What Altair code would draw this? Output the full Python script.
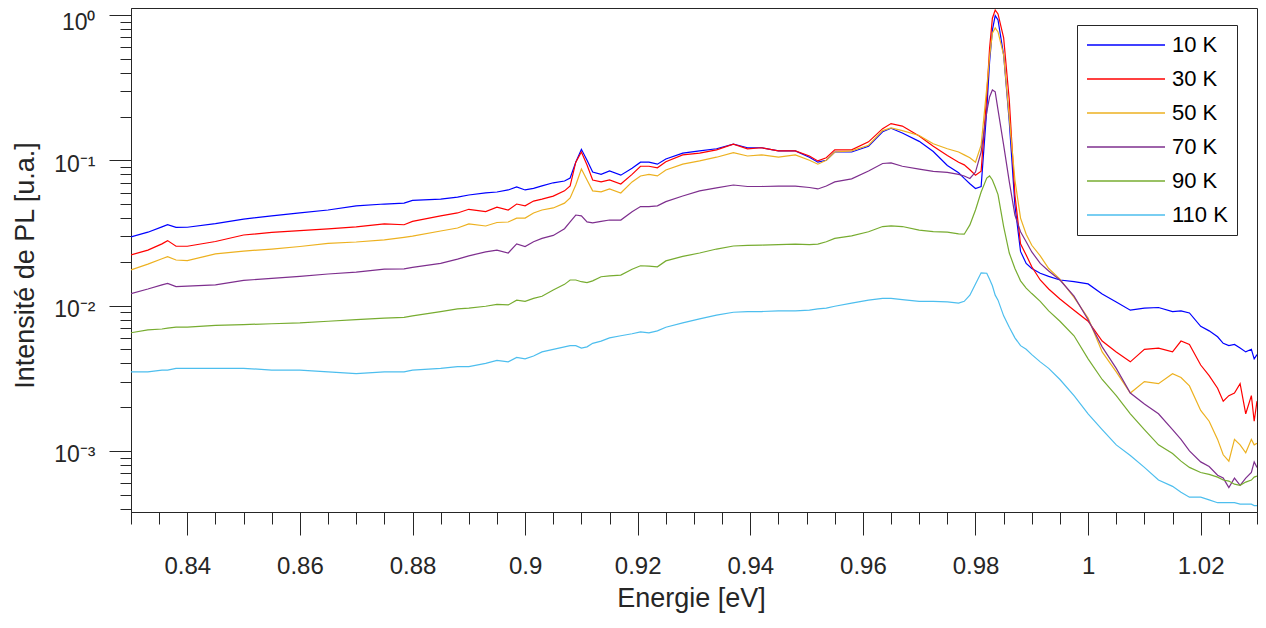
import altair as alt
import pandas as pd

# ---------------- data ----------------
energie = [
    0.830, 0.833, 0.8355, 0.8365, 0.838, 0.840, 0.845, 0.850, 0.855, 0.860,
    0.865, 0.870, 0.875, 0.8785, 0.880, 0.885, 0.888, 0.890, 0.893, 0.895,
    0.897, 0.8985, 0.900, 0.9015, 0.903, 0.905, 0.907, 0.908, 0.909, 0.910,
    0.911, 0.912, 0.9135, 0.915, 0.917, 0.919, 0.9205, 0.922, 0.9235, 0.925,
    0.928, 0.931, 0.934, 0.937, 0.9395, 0.942, 0.945, 0.948, 0.9505, 0.952,
    0.9535, 0.955, 0.958, 0.961, 0.9635, 0.965, 0.967, 0.970, 0.9725, 0.975,
    0.977, 0.978, 0.979, 0.980, 0.981, 0.982, 0.9825, 0.983, 0.9835, 0.984,
    0.985, 0.986, 0.987, 0.988, 0.989, 0.990, 0.9915, 0.993, 0.995, 0.9975,
    1.000, 1.0025, 1.005, 1.0075, 1.010, 1.0125, 1.015, 1.0165, 1.018, 1.020,
    1.0215, 1.023, 1.024, 1.025, 1.026, 1.027, 1.028, 1.029, 1.0295, 1.030,
]

pl_10K = [
    0.0297, 0.032, 0.0348, 0.036, 0.0345, 0.0346, 0.0367, 0.0394, 0.0414, 0.0434,
    0.0455, 0.0485, 0.050, 0.0507, 0.053, 0.054, 0.0557, 0.0577, 0.0596, 0.0605,
    0.0625, 0.0655, 0.0625, 0.064, 0.0666, 0.070, 0.072, 0.0755, 0.097, 0.119,
    0.100, 0.083, 0.080, 0.0844, 0.079, 0.088, 0.097, 0.097, 0.094, 0.102,
    0.112, 0.116, 0.120, 0.129, 0.122, 0.122, 0.116, 0.116, 0.105, 0.097,
    0.100, 0.114, 0.114, 0.125, 0.157, 0.166, 0.154, 0.135, 0.115, 0.092,
    0.082, 0.075, 0.069, 0.064, 0.066, 0.222, 0.475, 0.788, 0.990, 0.924,
    0.53, 0.184, 0.049, 0.0236, 0.0195, 0.018, 0.0167, 0.0159, 0.015, 0.0146,
    0.0141, 0.012, 0.0106, 0.0093, 0.0096, 0.0097, 0.0091, 0.0092, 0.0089, 0.0072,
    0.0067, 0.0061, 0.0055, 0.0053, 0.0054, 0.0051, 0.0048, 0.005, 0.0043, 0.0046,
]

pl_30K = [
    0.0223, 0.0241, 0.0266, 0.028, 0.0256, 0.0256, 0.0276, 0.0306, 0.0319, 0.0328,
    0.0337, 0.0348, 0.0365, 0.036, 0.038, 0.0414, 0.0434, 0.046, 0.0443, 0.0476,
    0.0455, 0.050, 0.0486, 0.0524, 0.054, 0.0567, 0.0616, 0.0666, 0.097, 0.114,
    0.0928, 0.0732, 0.071, 0.0732, 0.0686, 0.080, 0.091, 0.091, 0.0887, 0.0976,
    0.109, 0.112, 0.118, 0.129, 0.120, 0.122, 0.116, 0.116, 0.107, 0.099,
    0.104, 0.118, 0.118, 0.134, 0.165, 0.179, 0.172, 0.147, 0.125, 0.108,
    0.097, 0.093, 0.086, 0.079, 0.084, 0.28, 0.59, 0.95, 1.083, 1.016,
    0.695, 0.26, 0.0577, 0.0266, 0.0223, 0.0185, 0.015, 0.013, 0.0111, 0.0093,
    0.0078, 0.0057, 0.0048, 0.0041, 0.005, 0.0051, 0.0048, 0.0057, 0.0054, 0.0039,
    0.0033, 0.0027, 0.0022, 0.0024, 0.0025, 0.0029, 0.0018, 0.0024, 0.0016, 0.0022,
]

pl_50K = [
    0.0176, 0.0193, 0.021, 0.0217, 0.0206, 0.0204, 0.0227, 0.0237, 0.0245, 0.0255,
    0.0268, 0.0274, 0.0283, 0.0295, 0.0301, 0.0326, 0.0342, 0.0365, 0.0353, 0.0373,
    0.0376, 0.040, 0.040, 0.0434, 0.0455, 0.047, 0.0507, 0.055, 0.0676, 0.087,
    0.0732, 0.0616, 0.0606, 0.0635, 0.0596, 0.071, 0.078, 0.080, 0.078, 0.0858,
    0.094, 0.099, 0.105, 0.113, 0.107, 0.109, 0.105, 0.109, 0.100, 0.094,
    0.100, 0.114, 0.116, 0.127, 0.160, 0.167, 0.160, 0.148, 0.130, 0.120,
    0.114, 0.109, 0.104, 0.097, 0.127, 0.314, 0.514, 0.75, 0.814, 0.764,
    0.53, 0.196, 0.0732, 0.040, 0.031, 0.026, 0.022, 0.018, 0.0152, 0.0114,
    0.0082, 0.0048, 0.0035, 0.0025, 0.003, 0.0029, 0.0034, 0.0032, 0.0028, 0.0019,
    0.0016, 0.0012, 0.00094, 0.00085, 0.0012, 0.0011, 0.00097, 0.0012, 0.0011, 0.00113,
]

pl_70K = [
    0.0121, 0.013, 0.0139, 0.0142, 0.0135, 0.0136, 0.0139, 0.0149, 0.0154, 0.0159,
    0.0165, 0.017, 0.0178, 0.0179, 0.0183, 0.0195, 0.0209, 0.022, 0.0234, 0.0241,
    0.023, 0.0266, 0.0255, 0.0275, 0.029, 0.0304, 0.0338, 0.0377, 0.042, 0.0415,
    0.0377, 0.0371, 0.038, 0.0388, 0.0388, 0.0442, 0.048, 0.048, 0.0486, 0.0519,
    0.0568, 0.0616, 0.0645, 0.0676, 0.066, 0.066, 0.0665, 0.0665, 0.065, 0.0635,
    0.0665, 0.071, 0.0745, 0.0844, 0.095, 0.096, 0.091, 0.087, 0.084, 0.0825,
    0.080, 0.078, 0.075, 0.083, 0.114, 0.215, 0.273, 0.305, 0.296, 0.222,
    0.127, 0.0713, 0.042, 0.0322, 0.0275, 0.0234, 0.0195, 0.0173, 0.015, 0.0116,
    0.008, 0.0052, 0.0037, 0.0025, 0.0021, 0.0018, 0.0014, 0.0012, 0.001, 0.00084,
    0.00078, 0.00068, 0.00065, 0.00056, 0.00065, 0.00058, 0.00065, 0.00071, 0.00084, 0.00077,
]

pl_90K = [
    0.0065, 0.0068, 0.0069, 0.007, 0.0071, 0.0071, 0.0073, 0.0074, 0.0075, 0.0076,
    0.0078, 0.008, 0.0082, 0.0083, 0.0085, 0.0091, 0.0095, 0.0096, 0.0099, 0.0102,
    0.0101, 0.0109, 0.0107, 0.0112, 0.0116, 0.0128, 0.014, 0.015, 0.015, 0.0146,
    0.0144, 0.0148, 0.0158, 0.016, 0.0162, 0.0178, 0.0188, 0.0187, 0.0185, 0.0203,
    0.0218, 0.023, 0.0245, 0.0257, 0.026, 0.0261, 0.0263, 0.0265, 0.0263, 0.0265,
    0.0275, 0.029, 0.0302, 0.0322, 0.035, 0.0354, 0.035, 0.0331, 0.0323, 0.032,
    0.0312, 0.031, 0.0359, 0.0455, 0.0605, 0.0755, 0.078, 0.0732, 0.0655, 0.058,
    0.035, 0.023, 0.018, 0.0148, 0.0132, 0.0121, 0.0107, 0.0092, 0.0078, 0.0062,
    0.0043, 0.0031, 0.0024, 0.0018, 0.0014, 0.0011, 0.00096, 0.00085, 0.00077, 0.00071,
    0.00069, 0.00066, 0.00063, 0.00062, 0.00059, 0.00058, 0.00061, 0.00063, 0.00066, 0.00067,
]

pl_110K = [
    0.0035, 0.0035, 0.0036, 0.0036, 0.0037, 0.0037, 0.0037, 0.0037, 0.0036, 0.0036,
    0.0035, 0.0034, 0.0035, 0.0035, 0.0036, 0.0037, 0.0038, 0.0038, 0.004, 0.0042,
    0.0041, 0.0044, 0.0043, 0.0045, 0.0048, 0.005, 0.0052, 0.0053, 0.0053, 0.0051,
    0.0052, 0.0055, 0.0057, 0.006, 0.0062, 0.0064, 0.0066, 0.0065, 0.0067, 0.0071,
    0.0076, 0.0081, 0.0086, 0.009, 0.0091, 0.0091, 0.0092, 0.0092, 0.0093, 0.0095,
    0.0096, 0.0099, 0.0104, 0.0109, 0.0112, 0.0112, 0.011, 0.0107, 0.0107, 0.0106,
    0.0104, 0.0107, 0.0118, 0.0141, 0.0168, 0.0167, 0.0152, 0.0137, 0.0118, 0.0109,
    0.0085, 0.0071, 0.006, 0.0053, 0.005, 0.0046, 0.0041, 0.0037, 0.0031, 0.0024,
    0.0018, 0.0014, 0.0011, 0.00093, 0.00077, 0.00063, 0.00057, 0.00052, 0.00048, 0.00048,
    0.00046, 0.00044, 0.00044, 0.00044, 0.00044, 0.00043, 0.00043, 0.00043, 0.00042, 0.00042,
]

series_names = ["10 K", "30 K", "50 K", "70 K", "90 K", "110 K"]
series_colors = ["#0000FF", "#FF0000", "#EDB120", "#7E2F8E", "#77AC30", "#4DBEEE"]
series_values = [pl_10K, pl_30K, pl_50K, pl_70K, pl_90K, pl_110K]

x_major = [0.84, 0.86, 0.88, 0.9, 0.92, 0.94, 0.96, 0.98, 1.0, 1.02]
y_major = [0.001, 0.01, 0.1, 1.0]
y_major_labels = ["10\u207b\u00b3", "10\u207b\u00b2", "10\u207b\u00b9", "10\u2070"]

x_domain = [0.83, 1.03]
y_domain = [3.797e-4, 1.117]

# ---------------- table ----------------
rows = []
for k, (name, vals) in enumerate(zip(series_names, series_values)):
    for e, v in zip(energie, vals):
        rows.append({"Energie": e, "Intensite": v, "Temperature": name, "ordre": k})
df = pd.DataFrame(rows)

x_ticks = [round(0.83 + 0.005 * i, 3) for i in range(41)]
y_ticks = []
for ex in range(-4, 1):
    for m in range(1, 10):
        v = round(m * 10.0 ** ex, 12)
        if y_domain[0] <= v <= y_domain[1]:
            y_ticks.append(v)

x_major_js = "[" + ",".join(repr(v) for v in x_major) + "]"
y_major_js = "[" + ",".join(repr(v) for v in y_major) + "]"
y_label_expr = " : ".join(
    f"datum.value == {repr(v)} ? '{lab}'" for v, lab in zip(y_major, y_major_labels)
) + " : ''"

ink = "#262626"
font = "Liberation Sans"

x_axis = alt.Axis(
    values=x_ticks,
    format="~g",
    labelExpr=f"indexof({x_major_js}, datum.value) >= 0 ? datum.label : ''",
    tickSize={"condition": {"test": f"indexof({x_major_js}, datum.value) >= 0", "value": 23}, "value": 12},
    labelFontSize=24,
    labelBaseline="alphabetic",
    labelPadding=38,
    labelFlush=False,
    labelOverlap=False,
    labelBound=False,
    grid=False,
    title="Energie [eV]",
    titleFontSize=27,
    titleFontWeight="normal",
    titleBaseline="alphabetic",
    titleX=560,
    titleY=94,
)

y_axis = alt.Axis(
    values=y_ticks,
    labelExpr=y_label_expr,
    tickSize={"condition": {"test": f"indexof({y_major_js}, datum.value) >= 0", "value": 22}, "value": 11},
    labelFontSize=23,
    labelPadding=14,
    labelOffset={"condition": {"test": "datum.value == 1", "value": 8}, "value": 4},
    labelOverlap=False,
    labelBound=False,
    labelFlush=False,
    grid=False,
    title="Intensité de PL [u.a.]",
    titleFontSize=27,
    titleFontWeight="normal",
    titleBaseline="alphabetic",
    titleX=-98,
    titleY=257,
)

legend = alt.Legend(
    title=None,
    orient="none",
    legendX=946,
    legendY=17,
    direction="vertical",
    symbolType="stroke",
    symbolSize=6084,
    symbolStrokeWidth=1.3,
    clipHeight=22,
    labelFont=font,
    labelFontSize=22,
    labelColor="#000000",
    labelOffset=6,
    rowPadding=12,
    padding=9,
    strokeColor=ink,
    fillColor="#FFFFFF",
    cornerRadius=0,
)

chart = (
    alt.Chart(df)
    .mark_line(strokeWidth=1.2, clip=True)
    .encode(
        x=alt.X("Energie:Q", scale=alt.Scale(domain=x_domain, nice=False, zero=False), axis=x_axis),
        y=alt.Y("Intensite:Q", scale=alt.Scale(type="log", domain=y_domain, nice=False), axis=y_axis),
        color=alt.Color(
            "Temperature:N",
            scale=alt.Scale(domain=series_names, range=series_colors),
            legend=legend,
        ),
        order=alt.Order("Energie:Q"),
    )
    .properties(
        width=1126,
        height=504,
        autosize=alt.AutoSizeParams(type="none"),
        padding={"left": 123, "top": 0, "right": 1, "bottom": 102},
    )
    .configure_axis(
        domainColor=ink,
        domainWidth=1,
        tickColor=ink,
        tickWidth=1,
        labelColor=ink,
        titleColor=ink,
        labelFont=font,
        titleFont=font,
    )
    .configure_view(stroke=ink, strokeWidth=1)
)

chart.save("out.html", embed_options={"renderer": "svg", "actions": False})
